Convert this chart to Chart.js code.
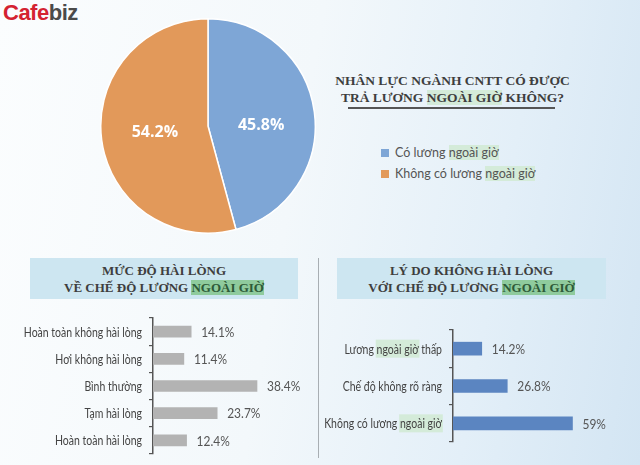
<!DOCTYPE html>
<html>
<head>
<meta charset="utf-8">
<script src="https://cdn.jsdelivr.net/npm/chart.js@4.4.1/dist/chart.umd.min.js"></script>
<style>
  html, body { margin: 0; padding: 0; }
  body {
    width: 640px; height: 465px; position: relative; overflow: hidden;
    background: linear-gradient(100deg, #fbfdfe 0%, #f3f8fb 45%, #e3eff8 75%, #d3e5f3 100%);
    font-family: Lato, "Open Sans", sans-serif;
  }
  .abs { position: absolute; }
  .logo { left: 3px; top: 0px; font: bold 22px "Liberation Sans", Arial, sans-serif; letter-spacing: -0.5px; }
  .logo .c { color: #d42231; }
  .logo .b { color: #4a4a4a; }
  .title { font-family: "Liberation Serif", serif; font-weight: bold; color: #3e3e3e; text-align: center; line-height: 17px; white-space: nowrap; }
  .hl { background: #d4ebd9; }
  .hl2 { background: #8fcb9d; color: #2d5a38; }
  .head { background: #cde6f1; }
  .legend { left: 381px; font-size: 12.5px; color: #555; }
  .legend span.sq { display: inline-block; width: 8px; height: 8px; margin-right: 6px; }
  .divider { left: 318px; top: 258px; width: 1px; height: 200px; background: #a8aeb3; }
</style>
</head>
<body>
<div class="abs logo"><span class="c">Cafe</span><span class="b">biz</span></div>

<div class="abs" style="left:100px;top:18px;width:216px;height:216px;"><canvas id="pie"></canvas></div>

<div class="abs title" style="left:330px;top:72px;width:245px;font-size:13.5px;">
  NHÂN LỰC NGÀNH CNTT CÓ ĐƯỢC<br>TRẢ LƯƠNG <span class="hl">NGOÀI GIỜ</span> KHÔNG?
</div>
<div class="abs" style="left:348px;top:107px;width:207px;height:1.5px;background:#555;"></div>

<div class="abs legend" id="legend" style="top:145px;"></div>

<div class="abs head title" style="left:30px;top:258px;width:268px;height:41px;font-size:13px;padding-top:4px;box-sizing:border-box;">
  MỨC ĐỘ HÀI LÒNG<br>VỀ CHẾ ĐỘ LƯƠNG <span class="hl2">NGOÀI GIỜ</span>
</div>
<div class="abs head title" style="left:337px;top:258px;width:269px;height:41px;font-size:13px;padding-top:4px;box-sizing:border-box;">
  LÝ DO KHÔNG HÀI LÒNG<br>VỚI CHẾ ĐỘ LƯƠNG <span class="hl2">NGOÀI GIỜ</span>
</div>

<div class="abs divider"></div>

<div class="abs" style="left:0px;top:310px;width:318px;height:150px;"><canvas id="bar1"></canvas></div>
<div class="abs" style="left:320px;top:322px;width:320px;height:126px;"><canvas id="bar2"></canvas></div>

<script>
// Dữ liệu biểu đồ tròn
const pieLabels = ["Có lương ngoài giờ", "Không có lương ngoài giờ"];
const pieValues = [45.8, 54.2];
const pieColors = ["#7ea6d6", "#e2995a"];

// Mức độ hài lòng
const satLabels = ["Hoàn toàn không hài lòng", "Hơi không hài lòng", "Bình thường", "Tạm hài lòng", "Hoàn toàn hài lòng"];
const satValues = [14.1, 11.4, 38.4, 23.7, 12.4];

// Lý do không hài lòng
const reasonLabels = ["Lương ngoài giờ thấp", "Chế độ không rõ ràng", "Không có lương ngoài giờ"];
const reasonValues = [14.2, 26.8, 59];

const HL = "ngoài giờ";
const SX = 0.84; // chữ hẹp kiểu condensed

// Chú thích HTML
const legendEl = document.getElementById("legend");
pieLabels.forEach(function (lab, i) {
    const row = document.createElement("div");
    row.style.height = "21px";
    const idx = lab.indexOf(HL);
    row.innerHTML = '<span class="sq" style="background:' + pieColors[i] + '"></span>' +
        lab.slice(0, idx) + '<span class="hl">' + HL + '</span>' + lab.slice(idx + HL.length);
    legendEl.appendChild(row);
});

// Nhãn phần trăm trên lát bánh
const pieLabelPlugin = {
    id: "pieLabels",
    afterDatasetsDraw(chart) {
        const ctx = chart.ctx;
        const meta = chart.getDatasetMeta(0);
        ctx.save();
        ctx.fillStyle = "#ffffff";
        ctx.font = "bold 16px 'Open Sans', sans-serif";
        ctx.textAlign = "center";
        ctx.textBaseline = "middle";
        meta.data.forEach(function (arc, i) {
            const p = arc.tooltipPosition();
            ctx.fillText(pieValues[i].toFixed(1) + "%", p.x, (p.y + meta.data[0].y) / 2 + 3);
        });
        ctx.restore();
    }
};

new Chart(document.getElementById("pie"), {
    type: "pie",
    data: {
        labels: pieLabels,
        datasets: [{ data: pieValues, backgroundColor: pieColors, borderColor: "#ffffff", borderWidth: 1.5 }]
    },
    options: {
        responsive: true, maintainAspectRatio: false, animation: false,
        plugins: { legend: { display: false }, tooltip: { enabled: false } }
    },
    plugins: [pieLabelPlugin]
});

// Nhãn danh mục + giá trị cho biểu đồ thanh
function barLabelPlugin(labels, values, fmt) {
    return {
        id: "barLabels",
        afterDraw(chart) {
            const ctx = chart.ctx;
            const yScale = chart.scales.y;
            const meta = chart.getDatasetMeta(0);
            labels.forEach(function (lab, i) {
                const y = yScale.getPixelForValue(i);
                const xr = yScale.right - 11;
                ctx.save();
                ctx.textBaseline = "middle";
                ctx.translate(xr, y);
                ctx.scale(SX, 1);
                ctx.font = "12.5px Lato, sans-serif";
                const w = ctx.measureText(lab).width;
                const idx = lab.indexOf(HL);
                if (idx >= 0) {
                    const x0 = -w + ctx.measureText(lab.slice(0, idx)).width;
                    ctx.fillStyle = "#d4ebd9";
                    ctx.fillRect(x0 - 1, -9, ctx.measureText(HL).width + 2, 18);
                }
                ctx.fillStyle = "#444";
                ctx.textAlign = "right";
                ctx.fillText(lab, 0, 1);
                ctx.restore();

                // giá trị
                ctx.save();
                ctx.textBaseline = "middle";
                ctx.translate(meta.data[i].x + 10, y);
                ctx.scale(0.92, 1);
                ctx.textAlign = "left";
                ctx.fillStyle = "#555";
                ctx.font = "13px Lato, sans-serif";
                ctx.fillText(fmt(values[i]), 0, 1);
                ctx.restore();
            });
        }
    };
}

function drawBars(id, labels, values, color, axisW, maxV, padR, thick) {
    new Chart(document.getElementById(id), {
        type: "bar",
        data: {
            labels: labels,
            datasets: [{ data: values, backgroundColor: color, barThickness: thick }]
        },
        options: {
            indexAxis: "y",
            responsive: true, maintainAspectRatio: false, animation: false,
            layout: { padding: { top: 8, bottom: 6, left: 0, right: padR } },
            scales: {
                x: { display: false, min: 0, max: maxV },
                y: {
                    ticks: { display: false },
                    grid: { drawOnChartArea: false, offset: true, tickLength: 4, color: "#555", lineWidth: 1.2 },
                    border: { color: "#555", width: 1.5 },
                    afterFit: function (scale) { scale.width = axisW; }
                }
            },
            plugins: { legend: { display: false }, tooltip: { enabled: false } }
        },
        plugins: [barLabelPlugin(labels, values, function (v) { return v + "%"; })]
    });
}

drawBars("bar1", satLabels, satValues, "#b3b3b3", 153, 60, 2.5, 11);
drawBars("bar2", reasonLabels, reasonValues, "#5b85c1", 133, 80, 25, 13);
</script>
</body>
</html>
